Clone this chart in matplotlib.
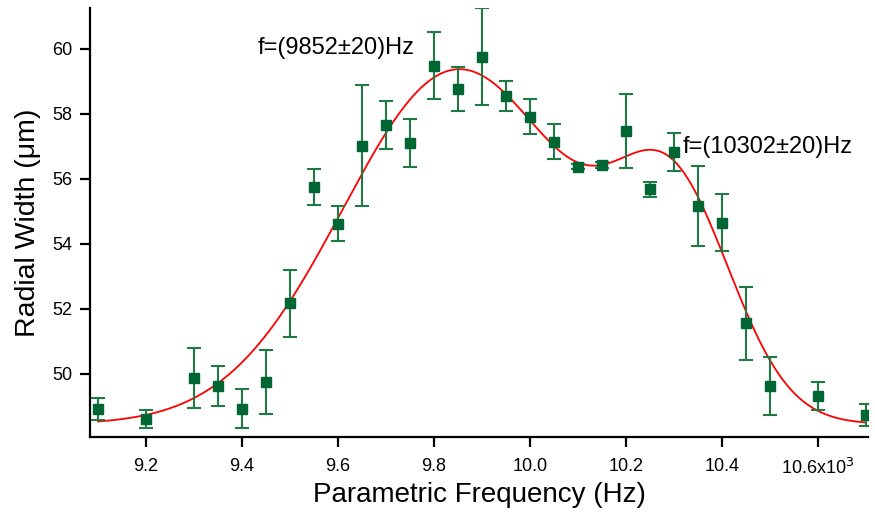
import numpy as np
import matplotlib
matplotlib.use("Agg")
import matplotlib.pyplot as plt
from matplotlib.ticker import FuncFormatter

plt.rcParams['font.family'] = ['Liberation Sans', 'DejaVu Sans']

# measured points: parametric frequency (Hz), radial width (um), error (um)
freq = [9100, 9200, 9300, 9350, 9400, 9450, 9500, 9550, 9600, 9650,
        9700, 9750, 9800, 9850, 9900, 9950, 10000, 10050, 10100, 10150,
        10200, 10250, 10300, 10350, 10400, 10450, 10500, 10600, 10700]
width = [48.92, 48.61, 49.88, 49.63, 48.93, 49.76, 52.17, 55.76, 54.62, 57.02,
         57.66, 57.12, 59.49, 58.77, 59.76, 58.56, 57.92, 57.15, 56.38, 56.43,
         57.48, 55.68, 56.82, 55.17, 54.66, 51.56, 49.63, 49.32, 48.74]
err = [0.34, 0.28, 0.93, 0.62, 0.60, 0.99, 1.03, 0.55, 0.54, 1.86,
       0.75, 0.74, 1.02, 0.68, 1.49, 0.46, 0.55, 0.53, 0.08, 0.08,
       1.14, 0.22, 0.58, 1.24, 0.87, 1.13, 0.88, 0.44, 0.34]

# double gaussian fit parameters (Hz / um)
offset = 48.45
amp1, center1, sigma1 = 10.92, 9852, 242
amp2, center2, sigma2 = 6.15, 10302, 123

labels = ["f=(9852±20)Hz", "f=(10302±20)Hz"]

fig = plt.figure(figsize=(8.75, 5.14), dpi=100)
ax = fig.add_axes([90 / 875, 77 / 514, 778 / 875, 429 / 514])

# fit curve
xf = np.linspace(freq[0], freq[-1], 400)
yf = (offset
      + amp1 * np.exp(-(xf - center1) ** 2 / (2 * sigma1 ** 2))
      + amp2 * np.exp(-(xf - center2) ** 2 / (2 * sigma2 ** 2)))
ax.plot(xf, yf, color='#ff0000', lw=1.3, zorder=2)

# data with error bars
ax.errorbar(freq, width, yerr=err, fmt='s', color='#006633', ms=7.5,
            ecolor='#1f7a45', elinewidth=1.5, capsize=5, capthick=1.5, zorder=3)

ax.text(9433, 60.03, labels[0], fontsize=17, va='center', ha='left')
ax.text(10319, 56.99, labels[1], fontsize=17, va='center', ha='left')

ax.set_xlim(9083, 10705)
ax.set_ylim(48.06, 61.26)

xticks = [9200, 9400, 9600, 9800, 10000, 10200, 10400, 10600]
ax.set_xticks(xticks)
ax.xaxis.set_major_formatter(FuncFormatter(
    lambda v, p: '10.6x10$^3$' if abs(v - 10600) < 1 else '%.1f' % (v / 1000)))
ax.set_yticks([50, 52, 54, 56, 58, 60])

for s in ['top', 'right']:
    ax.spines[s].set_visible(False)
for s in ['left', 'bottom']:
    ax.spines[s].set_linewidth(1.6)
ax.tick_params(direction='out', length=7, width=1.6, labelsize=13, pad=8)
ax.tick_params(axis='y', pad=6)

ax.set_xlabel('Parametric Frequency (Hz)', fontsize=20, labelpad=3)
ax.set_ylabel('Radial Width (μm)', fontsize=20.5, labelpad=8)

fig.savefig('out.png', dpi=100)
